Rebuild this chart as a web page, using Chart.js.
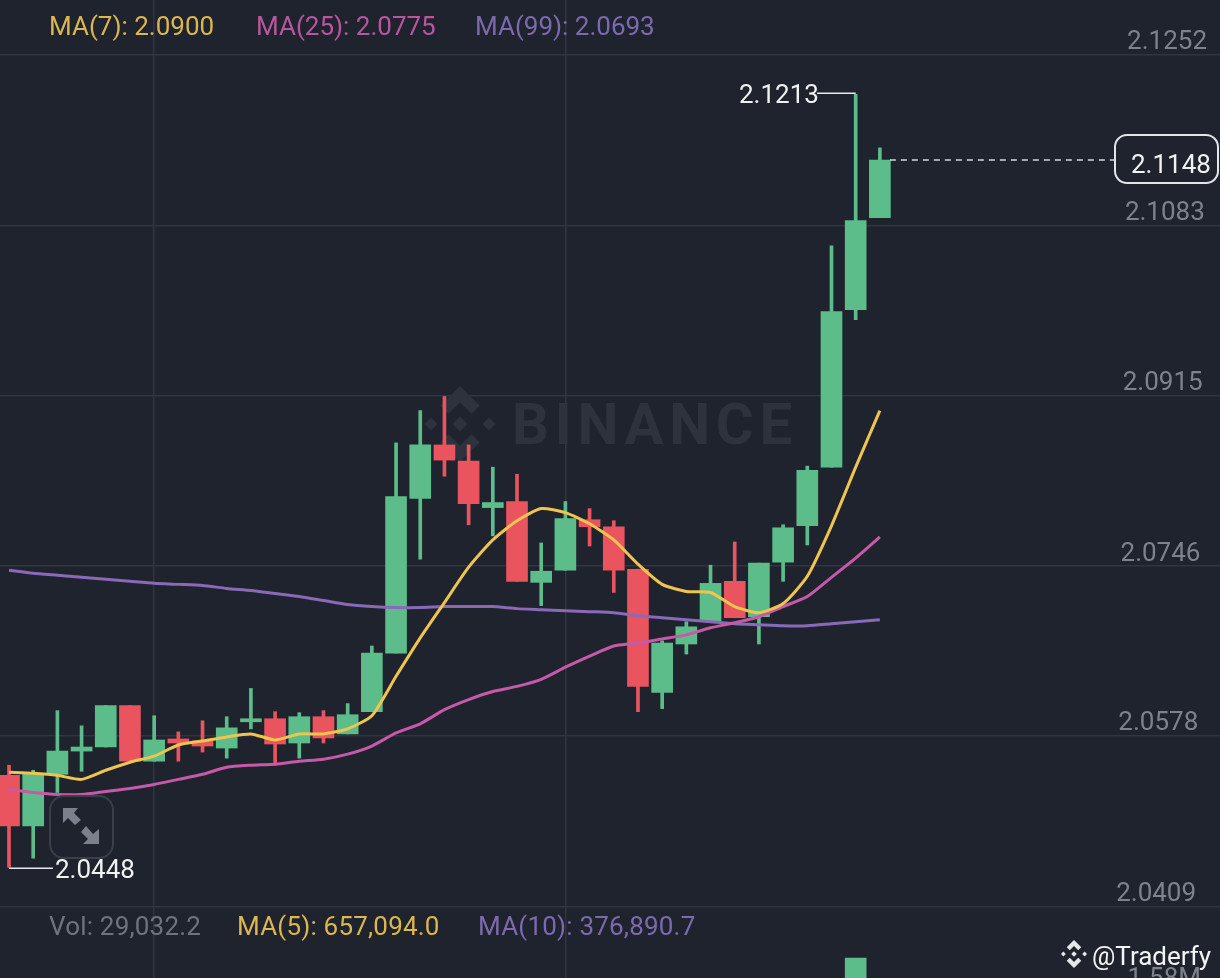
<!DOCTYPE html>
<html>
<head>
<meta charset="utf-8">
<title>MA chart</title>
<style>
  html, body { margin: 0; padding: 0; background: #1e232e; overflow: hidden; }
  canvas { display: block; }
</style>
<script src="https://cdn.jsdelivr.net/npm/chart.js@4"></script>
</head>
<body>
<canvas id="grafico" width="1220" height="978"></canvas>
<script>
const candles = [0,1,2,3,4,5,6,7,8,9,10,11,12,13,14,15,16,17,18,19,20,21,22,23,24,25,26,27,28,29,30,31,32,33,34,35,36];

const opens = [2.0539,2.0489,2.0540,2.0563,2.0567,2.0608,2.0553,2.0575,2.0573,2.0566,2.0592,2.0595,2.0571,2.0597,2.0580,2.0602,2.0660,2.0813,2.0866,2.0850,2.0804,2.0810,2.0730,2.0742,2.0792,2.0785,2.0743,2.0621,2.0669,2.0692,2.0731,2.0696,2.0750,2.0786,2.0844,2.1000,2.1091];
const closes = [2.0489,2.0540,2.0563,2.0567,2.0608,2.0553,2.0574,2.0571,2.0568,2.0586,2.0595,2.0570,2.0597,2.0576,2.0599,2.0660,2.0815,2.0866,2.0851,2.0808,2.0809,2.0731,2.0741,2.0793,2.0785,2.0742,2.0627,2.0670,2.0686,2.0729,2.0695,2.0749,2.0784,2.0841,2.0998,2.1088,2.1148];
const highs = [2.0549,2.0544,2.0603,2.0588,2.0608,2.0608,2.0598,2.0582,2.0593,2.0597,2.0625,2.0602,2.0601,2.0603,2.0610,2.0667,2.0868,2.0900,2.0914,2.0866,2.0844,2.0837,2.0769,2.0810,2.0803,2.0791,2.0743,2.0672,2.0691,2.0747,2.0770,2.0749,2.0787,2.0845,2.1063,2.1213,2.1160];
const lows = [2.0448,2.0457,2.0522,2.0543,2.0567,2.0553,2.0553,2.0553,2.0562,2.0556,2.0585,2.0549,2.0556,2.0571,2.0580,2.0602,2.0660,2.0753,2.0835,2.0787,2.0776,2.0731,2.0707,2.0742,2.0766,2.0720,2.0602,2.0605,2.0659,2.0692,2.0695,2.0669,2.0731,2.0767,2.0844,2.0990,2.1091];

const ma7 = [2.0542,2.0541,2.0539,2.0535,2.0544,2.0552,2.0558,2.0569,2.0573,2.0577,2.0580,2.0574,2.0580,2.0580,2.0585,2.0598,2.0637,2.0675,2.0710,2.0745,2.0772,2.0791,2.0803,2.0799,2.0788,2.0772,2.0748,2.0728,2.0721,2.0720,2.0706,2.0700,2.0709,2.0736,2.0786,2.0844,2.0900];
const ma25 = [2.0525,2.0522,2.0520,2.0520,2.0523,2.0526,2.0530,2.0535,2.0540,2.0547,2.0549,2.0550,2.0553,2.0555,2.0560,2.0568,2.0581,2.0590,2.0604,2.0614,2.0622,2.0627,2.0634,2.0646,2.0657,2.0667,2.0670,2.0674,2.0678,2.0685,2.0690,2.0696,2.0706,2.0716,2.0735,2.0754,2.0775];
const ma99 = [2.0742,2.0739,2.0737,2.0735,2.0733,2.0731,2.0729,2.0728,2.0727,2.0724,2.0722,2.0719,2.0716,2.0712,2.0708,2.0706,2.0705,2.0705,2.0706,2.0706,2.0706,2.0704,2.0703,2.0702,2.0701,2.0700,2.0697,2.0695,2.0693,2.0691,2.0689,2.0688,2.0687,2.0687,2.0689,2.0691,2.0693];

// only the tallest volume bar reaches into the crop
const volumes = [null,null,null,null,null,null,null,null,null,null,null,null,null,null,null,null,null,null,null,null,null,null,null,null,null,null,null,null,null,null,null,null,null,null,null,1720000,null];

const priceTicks = [2.1252,2.1083,2.0915,2.0746,2.0578,2.0409];
const timeTicks = [6,23];

const VERDE = "#5cbd8b";
const VERMELHO = "#e9545f";
const AMARELO = "#efc44f";
const ROSA = "#c659a8";
const ROXO = "#8a69b8";
const FUNDO = "#1e232e";
const CINZA = "#7d838d";
const GRADE = "#30353f";
const FONTE = "Roboto, sans-serif";

const cores = candles.map((c, i) => (closes[i] >= opens[i] ? VERDE : VERMELHO));

function pontos(valores) {
  return candles.map((c, i) => ({ x: c, y: valores[i] }));
}

// y is the visual centre of the digits, "middle" baseline sits about 3px high
function texto(ctx, str, x, y, cor, tamanho, align, peso) {
  ctx.save();
  ctx.font = `${peso || 400} ${tamanho}px ${FONTE}`;
  ctx.fillStyle = cor;
  ctx.textAlign = align || "left";
  ctx.textBaseline = "middle";
  ctx.fillText(str, x, y + 3);
  ctx.restore();
}

function losango(ctx, cx, cy, r) {
  ctx.beginPath();
  ctx.moveTo(cx, cy - r);
  ctx.lineTo(cx + r, cy);
  ctx.lineTo(cx, cy + r);
  ctx.lineTo(cx - r, cy);
  ctx.closePath();
  ctx.fill();
}

function divisa(ctx, cx, cy, r, dir) {
  // chevron of the exchange logo, dir -1 points up, 1 points down
  const t = r * 0.42;
  ctx.beginPath();
  ctx.moveTo(cx, cy + dir * r);
  ctx.lineTo(cx + r, cy);
  ctx.lineTo(cx + r - t, cy - dir * t);
  ctx.lineTo(cx, cy + dir * (r - 2 * t));
  ctx.lineTo(cx - r + t, cy - dir * t);
  ctx.lineTo(cx - r, cy);
  ctx.closePath();
  ctx.fill();
}

function logo(ctx, cx, cy, s, cor) {
  ctx.save();
  ctx.fillStyle = cor;
  losango(ctx, cx, cy, s * 0.2);
  losango(ctx, cx - s * 0.76, cy, s * 0.17);
  losango(ctx, cx + s * 0.76, cy, s * 0.17);
  divisa(ctx, cx, cy - s * 0.48, s * 0.52, -1);
  divisa(ctx, cx, cy + s * 0.48, s * 0.52, 1);
  ctx.restore();
}

// watermark sits between the grid and the candles
const marcaDagua = {
  id: "marcaDagua",
  beforeDatasetsDraw(chart) {
    const ctx = chart.ctx;
    logo(ctx, 460, 424, 38, "#2e323d");
    ctx.save();
    ctx.letterSpacing = "5.7px";
    texto(ctx, "BINANCE", 512, 426, "#2e323d", 58, "left", 700);
    ctx.restore();
  }
};

const anotacoes = {
  id: "anotacoes",
  afterDraw(chart) {
    const ctx = chart.ctx;
    const x = chart.scales.x;
    const y = chart.scales.y;

    // price tick labels, the photo leans slightly so the right edge drifts
    priceTicks.forEach((v) => {
      const py = y.getPixelForValue(v);
      texto(ctx, v.toFixed(4), 1207 - (py - 55) * 0.0128, py - 15, CINZA, 26, "right");
    });
    texto(ctx, "1.58M", 1201, 976, CINZA, 26, "right");

    // legends
    texto(ctx, "MA(7): 2.0900", 49, 25, "#dcb64f", 26);
    texto(ctx, "MA(25): 2.0775", 256, 25, "#b9569f", 26);
    texto(ctx, "MA(99): 2.0693", 475, 25, "#7d69ad", 26);
    ctx.save();
    ctx.letterSpacing = "0.2px";
    texto(ctx, "Vol: 29,032.2", 49, 925, "#6d7480", 26);
    texto(ctx, "MA(5): 657,094.0", 237, 925, "#dcb64f", 26);
    texto(ctx, "MA(10): 376,890.7", 478, 925, "#7d69ad", 26);
    ctx.restore();

    // high and low markers
    const iMax = highs.indexOf(Math.max(...highs));
    const iMin = lows.indexOf(Math.min(...lows));
    const yMax = y.getPixelForValue(highs[iMax]) - 1;
    const yMin = y.getPixelForValue(lows[iMin]) + 1;
    ctx.save();
    ctx.strokeStyle = "#e8e9ea";
    ctx.lineWidth = 1.5;
    ctx.beginPath();
    ctx.moveTo(817, yMax);
    ctx.lineTo(x.getPixelForValue(candles[iMax]), yMax);
    ctx.moveTo(x.getPixelForValue(candles[iMin]), yMin);
    ctx.lineTo(53, yMin);
    ctx.stroke();
    ctx.restore();
    texto(ctx, highs[iMax].toFixed(4), 739, yMax, "#f2f2f2", 26);
    texto(ctx, lows[iMin].toFixed(4), 55, yMin, "#f2f2f2", 26);

    // last price line and box
    const ult = closes.length - 1;
    const yUlt = y.getPixelForValue(closes[ult]);
    ctx.save();
    ctx.strokeStyle = "#d5d7da";
    ctx.lineWidth = 1.5;
    ctx.setLineDash([6, 5]);
    ctx.beginPath();
    ctx.moveTo(x.getPixelForValue(candles[ult]) + 10, yUlt);
    ctx.lineTo(1115, yUlt);
    ctx.stroke();
    ctx.setLineDash([]);
    ctx.fillStyle = FUNDO;
    ctx.strokeStyle = "#e4e5e7";
    ctx.lineWidth = 2;
    ctx.beginPath();
    ctx.roundRect(1115, 135, 103, 48, 12);
    ctx.fill();
    ctx.stroke();
    ctx.restore();
    texto(ctx, closes[ult].toFixed(4), 1131, 163, "#f2f2f2", 26);

    // fullscreen button
    ctx.save();
    ctx.strokeStyle = "#3a3f4a";
    ctx.lineWidth = 2;
    ctx.beginPath();
    ctx.roundRect(50, 796, 63, 62, 14);
    ctx.stroke();
    ctx.fillStyle = "#7b808c";
    ctx.beginPath();
    ctx.moveTo(63, 808);
    ctx.lineTo(78, 808);
    ctx.lineTo(74, 813);
    ctx.lineTo(81, 820);
    ctx.lineTo(75, 825);
    ctx.lineTo(68, 818);
    ctx.lineTo(63, 823);
    ctx.closePath();
    ctx.moveTo(99, 844);
    ctx.lineTo(83, 844);
    ctx.lineTo(88, 839);
    ctx.lineTo(81, 832);
    ctx.lineTo(86, 826);
    ctx.lineTo(93, 834);
    ctx.lineTo(99, 829);
    ctx.closePath();
    ctx.fill();
    ctx.restore();

    // credit
    logo(ctx, 1074, 954, 14, "#e6e7e9");
    texto(ctx, "@Traderfy", 1092, 955, "#f4f4f4", 26);
  }
};

new Chart(document.getElementById("grafico").getContext("2d"), {
  type: "bar",
  data: {
    datasets: [
      { type: "line", data: pontos(ma7), borderColor: AMARELO, borderWidth: 3, pointRadius: 0, tension: 0.2, order: 1 },
      { type: "line", data: pontos(ma25), borderColor: ROSA, borderWidth: 3, pointRadius: 0, tension: 0.2, order: 2 },
      { type: "line", data: pontos(ma99), borderColor: ROXO, borderWidth: 3, pointRadius: 0, tension: 0.2, order: 3 },
      { data: candles.map((c, i) => ({ x: c, y: [opens[i], closes[i]] })), backgroundColor: cores, barThickness: 21, grouped: false, order: 4 },
      { data: candles.map((c, i) => ({ x: c, y: [lows[i], highs[i]] })), backgroundColor: cores, barThickness: 3, grouped: false, order: 5 },
      { data: pontos(volumes), yAxisID: "vol", backgroundColor: VERDE, barThickness: 21, grouped: false, order: 6 }
    ]
  },
  options: {
    responsive: false,
    animation: false,
    devicePixelRatio: 1,
    layout: { padding: 0 },
    plugins: { legend: { display: false }, tooltip: { enabled: false } },
    scales: {
      x: {
        type: "linear",
        min: -0.372,
        max: 50.06,
        offset: false,
        afterBuildTicks: (scale) => { scale.ticks = timeTicks.map((value) => ({ value })); },
        ticks: { display: false },
        border: { display: false },
        grid: { offset: false, color: GRADE, lineWidth: 1.5, drawTicks: false }
      },
      y: {
        min: 2.03384,
        max: 2.13064,
        afterBuildTicks: (scale) => { scale.ticks = priceTicks.map((value) => ({ value })); },
        ticks: { display: false },
        border: { display: false },
        grid: { color: GRADE, lineWidth: 1.5, drawTicks: false }
      },
      vol: {
        display: false,
        min: 1600000,
        max: 7468000
      }
    }
  },
  plugins: [marcaDagua, anotacoes]
});
</script>
</body>
</html>
